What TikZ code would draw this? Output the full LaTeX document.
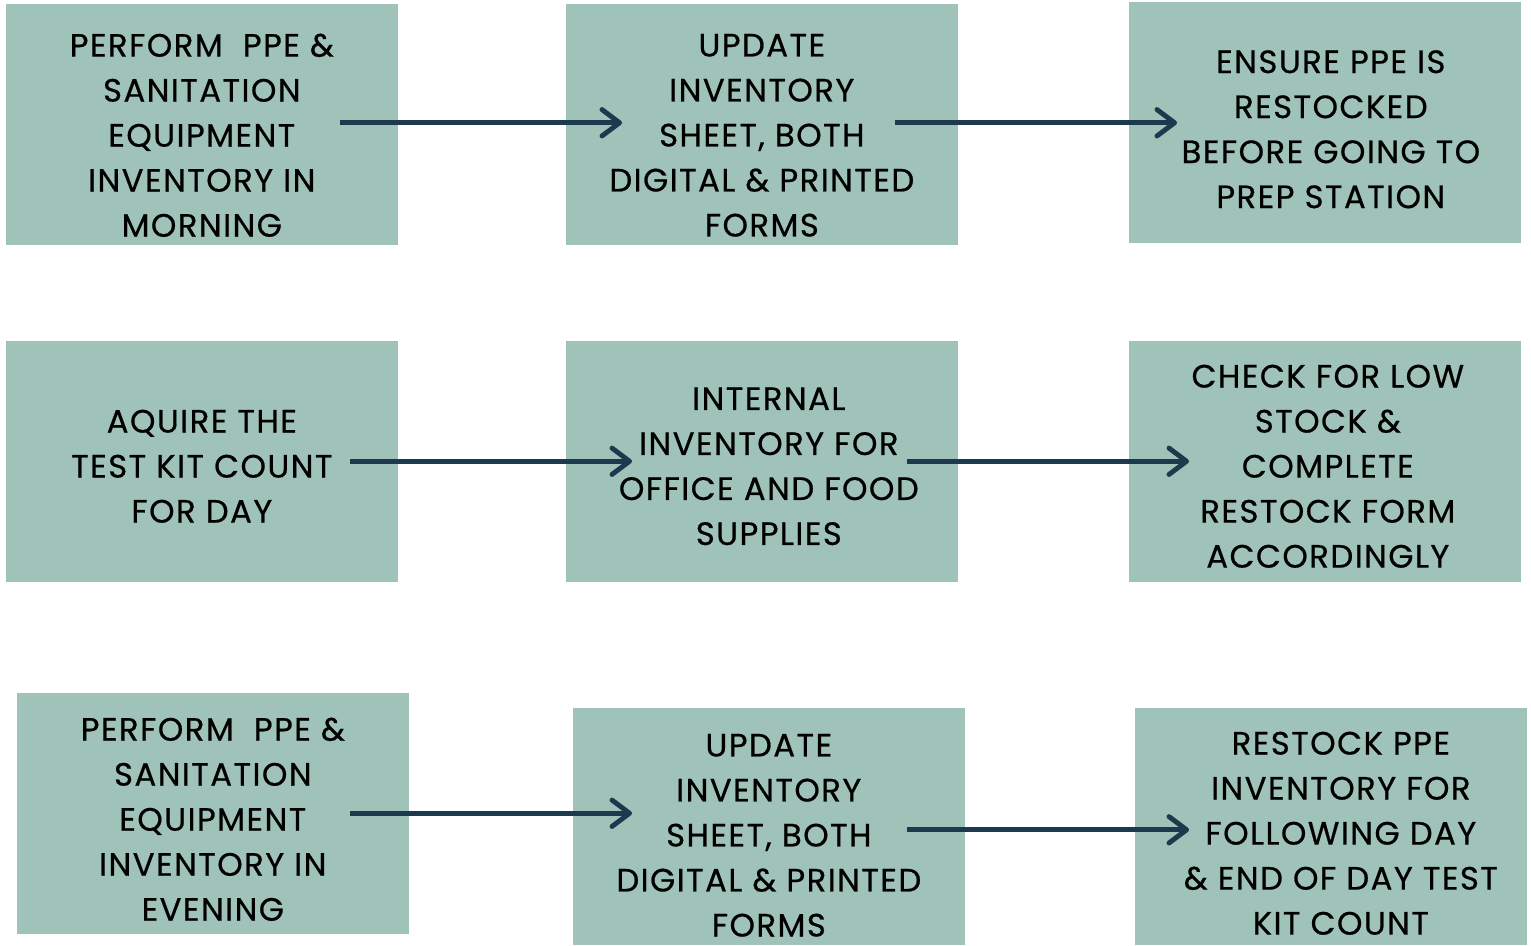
\documentclass[tikz,border=0pt]{standalone}
\usepackage{fontspec}
\setmainfont{Poppins}[FakeBold=0.6,LetterSpace=4.5]
\usetikzlibrary{arrows.meta}
\definecolor{boxgreen}{HTML}{A0C3B9}
\definecolor{arrowblue}{HTML}{1C3A4E}
\tikzset{
	stepbox/.style={fill=boxgreen, minimum width=3.92cm, minimum height=2.41cm, inner sep=0pt, anchor=north west},
	steptext/.style={inner sep=0pt, align=center, font=\fontsize{9.2}{12.8}\selectfont, yshift=-0.07cm},
	flow/.style={draw=arrowblue, line width=1.4pt, -{Straight Barb[length=5pt,width=7.5pt,round]}}
}
\begin{document}
\begin{tikzpicture}[x=0.01cm,y=-0.01cm]
	
	\useasboundingbox (0,0) rectangle (1531,945);
	
	% first row
	\node[stepbox, label={[steptext, yshift=-0.04cm]center:{PERFORM\ \ PPE \&\\SANITATION\\EQUIPMENT\\INVENTORY IN\\MORNING}}] (morning) at (5,3) {};
	\node[stepbox, label={[steptext, yshift=-0.04cm]center:{UPDATE\\INVENTORY\\SHEET, BOTH\\DIGITAL \& PRINTED\\FORMS}}] (update) at (565,3) {};
	\node[stepbox, label={[steptext, xshift=0.06cm]center:{ENSURE PPE IS\\RESTOCKED\\BEFORE GOING TO\\PREP STATION}}] (ensure) at (1128,1) {};
	
	% second row
	\node[stepbox, label={[steptext, yshift=0.02cm]center:{AQUIRE THE\\TEST KIT COUNT\\FOR DAY}}] (testkit) at (5,340) {};
	\node[stepbox, label={[steptext, xshift=0.07cm, yshift=0.02cm]center:{INTERNAL\\INVENTORY FOR\\OFFICE AND FOOD\\SUPPLIES}}] (internal) at (565,340) {};
	\node[stepbox, label={[steptext, xshift=0.03cm, yshift=0.02cm]center:{CHECK FOR LOW\\STOCK \&\\COMPLETE\\RESTOCK FORM\\ACCORDINGLY}}] (lowstock) at (1128,340) {};
	
	% third row
	\node[stepbox, label={[steptext, yshift=0.01cm]center:{PERFORM\ \ PPE \&\\SANITATION\\EQUIPMENT\\INVENTORY IN\\EVENING}}] (evening) at (16,692) {};
	\node[stepbox, minimum height=2.37cm, label={[steptext, yshift=-0.02cm]center:{UPDATE\\INVENTORY\\SHEET, BOTH\\DIGITAL \& PRINTED\\FORMS}}] (updatelate) at (572,707) {};
	\node[stepbox, minimum height=2.37cm, label={[steptext, xshift=0.1cm]center:{RESTOCK PPE\\INVENTORY FOR\\FOLLOWING DAY\\\& END OF DAY TEST\\KIT COUNT}}] (restock) at (1134,707) {};
	
	% arrows
	\draw[flow] ([xshift=-0.59cm,yshift=0.015cm]morning.east) -- ([xshift=0.57cm,yshift=0.015cm]update.west);
	\draw[flow] ([xshift=-0.64cm,yshift=0.015cm]update.east) -- ([xshift=0.49cm,yshift=0.015cm]update.east -| ensure.west);
	
	\draw[flow] ([xshift=-0.49cm]testkit.east) -- ([xshift=0.67cm]internal.west);
	\draw[flow] ([xshift=-0.52cm]internal.east) -- ([xshift=0.61cm]lowstock.west);
	
	\draw[flow] ([xshift=-0.60cm]evening.east) -- ([xshift=0.60cm]evening.east -| updatelate.west);
	\draw[flow] ([xshift=-0.59cm,yshift=-0.035cm]updatelate.east) -- ([xshift=0.55cm,yshift=-0.035cm]restock.west);
	
\end{tikzpicture}
\end{document}
